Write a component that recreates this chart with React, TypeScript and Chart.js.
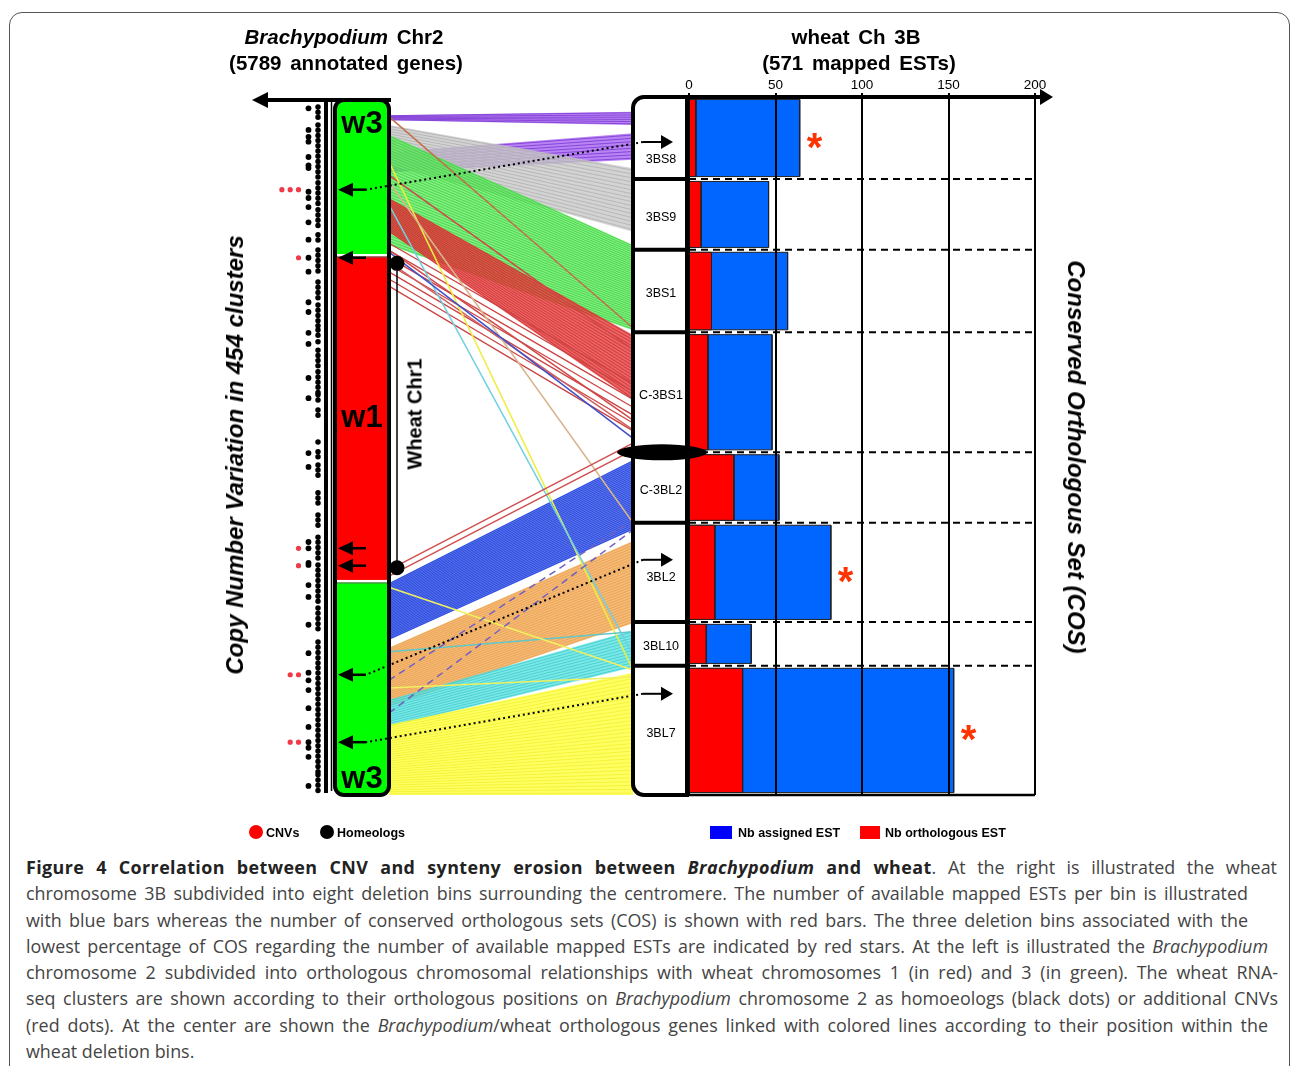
import React, { useEffect, useRef } from "react";
import { Chart, registerables } from "chart.js";

Chart.register(...registerables);

// ---------- Data: wheat chromosome 3B deletion bins ----------
const binLabels = ["3BS8", "3BS9", "3BS1", "C-3BS1", "C-3BL2", "3BL2", "3BL10", "3BL7"];
// bin boundaries along chromosome 3B (% of chromosome length, from the short-arm tip)
const binEdges = [0, 11.75, 21.9, 33.7, 50.9, 61.0, 75.2, 81.5, 100];
const assignedEST = [64, 46, 57, 48, 52, 82, 36, 153];
const orthologousEST = [4, 7, 13, 11, 26, 15, 10, 31];
const starredBins = ["3BS8", "3BL2", "3BL7"];
const centromere = 50.9;
const estTicks = [0, 50, 100, 150, 200];

// ---------- Data: Brachypodium chromosome 2 (% of chromosome length) ----------
const segmentLabels = ["w3", "w1", "w3"];
const segmentEdges = [0, 22.3, 69.2, 100];
const wheatChr1Span = [23.5, 67.3];
const cnvPositions = [12.9, 22.7, 64.5, 67.0, 82.7, 92.4];
const cnvCounts = [3, 1, 1, 1, 2, 2];
const linkedCnv = [0, 4, 5];
const linkedBinPos = [6.45, 66.3, 85.5];
const homeologSparse = [1.2, 4.3, 5.3, 6.0, 8.2, 9.4, 9.8, 13.2, 14.1, 15.4, 17.6, 20.1, 22.7, 24.7, 29.1, 30.5, 33.5, 35.1, 40.0, 42.9, 50.8, 52.8, 63.6, 64.5, 66.6, 66.9, 69.8, 71.5, 75.5, 79.6, 82.4, 83.5, 84.9, 87.5, 90.2, 92.4, 93.2, 94.5, 98.7];
const homeologDenseStart = [1.0, 3.6, 11.9, 15.8, 19.4, 21.6, 26.2, 29.5, 33.1, 34.8, 36.0, 39.1, 42.4, 44.6, 49.2, 50.6, 52.5, 56.5, 59.7, 62.9, 66.9, 73.1, 78.0, 81.7, 97.1];
const homeologDenseEnd = [2.6, 11.2, 15.1, 18.4, 20.6, 25.2, 29.1, 32.8, 34.1, 35.5, 38.4, 42.2, 43.5, 46.0, 49.6, 51.4, 54.2, 58.3, 61.4, 66.6, 72.2, 76.5, 81.3, 96.7, 99.6];

// ---------- Data: orthologous gene links (Brachypodium % -> wheat 3B %) ----------
const bandBrachyFrom = [2.2, 7.5, 3.6, 5.0, 14.1, 20.1, 69.5, 78.8, 86.3, 89.9];
const bandBrachyTo = [2.9, 10.4, 9.4, 20.9, 19.0, 27.3, 77.7, 87.3, 90.2, 100];
const bandWheatFrom = [2.1, 5.2, 10.2, 21.2, 34.1, 40.5, 52.0, 63.6, 76.4, 82.5];
const bandWheatTo = [4.0, 9.0, 19.3, 33.4, 43.4, 48.4, 62.0, 75.4, 81.7, 100];
const bandGenes = [6, 8, 16, 40, 20, 7, 36, 30, 12, 32];
const singleBrachy = [2.4, 10.8, 21.6, 23.3, 8.9, 15.1, 11.8, 21.9, 67.6, 68.5, 79.4, 70.1, 84.6, 88.2, 83.5];
const singleWheat = [33.1, 36.2, 46.3, 47.7, 82.1, 79.9, 61.0, 48.9, 49.6, 50.6, 76.6, 82.1, 83.1, 62.0, 60.6];

// ---------- Styles ----------
const FONT = '"Liberation Sans", Arial, Helvetica, sans-serif';
const CAPTION_FONT = '"Open Sans", "Noto Sans", sans-serif';
const segmentColors = ["#00ff00", "#ff0000", "#00ff00"];
const bandFill = ["rgba(160,90,240,0.75)", "rgba(160,90,240,0.75)", "rgba(200,200,200,0.8)", "rgba(90,235,90,0.75)", "rgba(230,60,60,0.8)", "rgba(0,0,0,0)", "rgba(60,90,235,0.8)", "rgba(245,175,95,0.85)", "rgba(90,225,225,0.8)", "rgba(255,255,70,0.85)"];
const bandLine = ["#7a36d0", "#7a36d0", "#b0b0b0", "#3fcf3f", "#cc3030", "#cc4444", "#2040d8", "#e8a050", "#40cccc", "#f0f030"];
const singleColors = ["#c0704a", "#d04848", "#d04848", "#d06060", "#eeee40", "#70d0e0", "#d8b48c", "#4050c8", "#d05050", "#d05050", "#60c8c8", "#f0f060", "#f0f060", "#7060c0", "#7060c0"];
const singleDashed = [false, false, false, false, false, false, false, false, false, false, false, false, false, true, true];
const BLUE = "#0066ff";
const RED = "#ff0000";

const CHR_L = 335, CHR_R = 389, CHR_TOP = 0.43;
const COL_L = 633, COL_R = 687;
const BAR_INSET = 0.35;

function rectPoints(i: number, v: number) {
  const t = binEdges[i] + BAR_INSET, b = binEdges[i + 1] - BAR_INSET;
  return [{ x: 0, y: t }, { x: v, y: t }, { x: v, y: b }, { x: 0, y: b }, { x: 0, y: t }];
}

function hArrow(ctx: CanvasRenderingContext2D, x0: number, x1: number, y: number, head: number, half: number, lw: number) {
  const dir = Math.sign(x1 - x0);
  ctx.lineWidth = lw;
  ctx.beginPath(); ctx.moveTo(x0, y); ctx.lineTo(x1 - dir * head * 0.7, y); ctx.stroke();
  ctx.beginPath(); ctx.moveTo(x1, y); ctx.lineTo(x1 - dir * head, y - half); ctx.lineTo(x1 - dir * head, y + half); ctx.closePath(); ctx.fill();
}

const figurePlugin = {
  id: "figure",
  beforeDatasetsDraw(chart: any) {
    const ctx: CanvasRenderingContext2D = chart.ctx;
    const { x, y } = chart.scales;
    const bY = (p: number) => y.getPixelForValue(CHR_TOP + (p * (100 - CHR_TOP)) / 100);
    const wY = (p: number) => y.getPixelForValue(p);
    ctx.save();
    // dashed bin boundaries
    ctx.setLineDash([7, 5]); ctx.lineWidth = 2; ctx.strokeStyle = "#000";
    for (let i = 1; i < binEdges.length - 1; i++) {
      const py = wY(binEdges[i]);
      ctx.beginPath(); ctx.moveTo(x.left, py); ctx.lineTo(x.right, py); ctx.stroke();
    }
    ctx.setLineDash([]);
    // synteny bands
    for (let i = 0; i < bandGenes.length; i++) {
      ctx.fillStyle = bandFill[i];
      ctx.beginPath();
      ctx.moveTo(CHR_R, bY(bandBrachyFrom[i])); ctx.lineTo(COL_L, wY(bandWheatFrom[i]));
      ctx.lineTo(COL_L, wY(bandWheatTo[i])); ctx.lineTo(CHR_R, bY(bandBrachyTo[i]));
      ctx.closePath(); ctx.fill();
      ctx.strokeStyle = bandLine[i]; ctx.lineWidth = bandFill[i] === "rgba(0,0,0,0)" ? 1.3 : 0.8;
      const n = bandGenes[i];
      for (let k = 0; k < n; k++) {
        const t = (k + 0.5) / n;
        ctx.beginPath();
        ctx.moveTo(CHR_R, bY(bandBrachyFrom[i] + t * (bandBrachyTo[i] - bandBrachyFrom[i])));
        ctx.lineTo(COL_L, wY(bandWheatFrom[i] + t * (bandWheatTo[i] - bandWheatFrom[i])));
        ctx.stroke();
      }
    }
    for (let i = 0; i < singleBrachy.length; i++) {
      ctx.strokeStyle = singleColors[i]; ctx.lineWidth = 1.5;
      ctx.setLineDash(singleDashed[i] ? [7, 5] : []);
      ctx.beginPath(); ctx.moveTo(CHR_R, bY(singleBrachy[i])); ctx.lineTo(COL_L, wY(singleWheat[i])); ctx.stroke();
    }
    ctx.restore();
  },
  afterDraw(chart: any) {
    const ctx: CanvasRenderingContext2D = chart.ctx;
    const { x, y } = chart.scales;
    const bY = (p: number) => y.getPixelForValue(CHR_TOP + (p * (100 - CHR_TOP)) / 100);
    const wY = (p: number) => y.getPixelForValue(p);
    ctx.save();
    ctx.strokeStyle = "#000"; ctx.fillStyle = "#000";
    // bottom of bar panel
    ctx.lineWidth = 2.5;
    ctx.beginPath(); ctx.moveTo(x.left, y.bottom); ctx.lineTo(x.right, y.bottom); ctx.stroke();
    // axis arrow extension
    ctx.lineWidth = 4;
    ctx.beginPath(); ctx.moveTo(x.right - 2, y.top); ctx.lineTo(x.right + 8, y.top); ctx.stroke();
    ctx.beginPath(); ctx.moveTo(x.right + 18, y.top); ctx.lineTo(x.right + 5, y.top - 8); ctx.lineTo(x.right + 5, y.top + 8); ctx.closePath(); ctx.fill();

    // label column of deletion bins
    ctx.fillStyle = "#fff";
    ctx.beginPath(); ctx.roundRect(COL_L, y.top, COL_R - COL_L, y.bottom - y.top, [11, 0, 0, 11]); ctx.fill();
    ctx.lineWidth = 4; ctx.stroke();
    for (let i = 1; i < binEdges.length - 1; i++) {
      const py = wY(binEdges[i]);
      ctx.beginPath(); ctx.moveTo(COL_L, py); ctx.lineTo(x.left, py); ctx.stroke();
    }
    // centromere
    ctx.fillStyle = "#000";
    ctx.beginPath(); ctx.ellipse((COL_L + COL_R) / 2 + 2, wY(centromere), 45, 8, 0, 0, Math.PI * 2); ctx.fill();

    // bin arrows, labels, stars
    ctx.font = `12.5px ${FONT}`; ctx.textAlign = "center"; ctx.textBaseline = "middle";
    for (let i = 0; i < binLabels.length; i++) {
      const c = (wY(binEdges[i]) + wY(binEdges[i + 1])) / 2;
      let ly = c + 3;
      const li = linkedCnv.findIndex((_, k) => linkedBinPos[k] > binEdges[i] && linkedBinPos[k] < binEdges[i + 1]);
      if (li >= 0) {
        const ay = wY(linkedBinPos[li]);
        ctx.fillStyle = "#000"; ctx.strokeStyle = "#000";
        hArrow(ctx, COL_L + 10, COL_L + 40, ay, 12, 7, 2);
        ly = Math.max(ly, ay + 18);
      }
      ctx.fillStyle = "#000";
      ctx.fillText(binLabels[i], (COL_L + COL_R) / 2 + 1, ly);
    }
    ctx.fillStyle = "#ff3300"; ctx.font = `bold 40px ${FONT}`; ctx.textAlign = "left"; ctx.textBaseline = "alphabetic";
    starredBins.forEach((lab) => {
      const i = binLabels.indexOf(lab);
      const c = (wY(binEdges[i]) + wY(binEdges[i + 1])) / 2;
      ctx.fillText("*", x.getPixelForValue(assignedEST[i]) + 7, c + 23);
    });

    // Brachypodium chromosome
    const top = bY(0), bot = bY(100);
    ctx.fillStyle = "#000"; ctx.strokeStyle = "#000";
    ctx.lineWidth = 4;
    ctx.beginPath(); ctx.moveTo(CHR_R + 2, top); ctx.lineTo(266, top); ctx.stroke();
    ctx.beginPath(); ctx.moveTo(252, top); ctx.lineTo(268, top - 8); ctx.lineTo(268, top + 8); ctx.closePath(); ctx.fill();
    ctx.beginPath(); ctx.moveTo(326, top); ctx.lineTo(326, bot - 2); ctx.stroke();
    ctx.lineWidth = 1.5;
    ctx.beginPath(); ctx.moveTo(331.5, top); ctx.lineTo(331.5, bot - 4); ctx.stroke();

    // homeolog dots
    ctx.lineWidth = 5.5; ctx.lineCap = "round"; ctx.setLineDash([0, 5.2]);
    for (let i = 0; i < homeologDenseStart.length; i++) {
      ctx.beginPath(); ctx.moveTo(318, bY(homeologDenseStart[i])); ctx.lineTo(318, bY(homeologDenseEnd[i])); ctx.stroke();
    }
    ctx.setLineDash([]); ctx.lineCap = "butt";
    homeologSparse.forEach((p) => { ctx.beginPath(); ctx.arc(308.5, bY(p), 2.9, 0, Math.PI * 2); ctx.fill(); });
    // CNV dots
    ctx.fillStyle = "#f03a4a";
    cnvPositions.forEach((p, i) => {
      for (let k = 0; k < cnvCounts[i]; k++) { ctx.beginPath(); ctx.arc(298.5 - 8.3 * k, bY(p), 2.6, 0, Math.PI * 2); ctx.fill(); }
    });

    ctx.save();
    ctx.beginPath(); ctx.roundRect(CHR_L, top, CHR_R - CHR_L, bot - top, 9); ctx.clip();
    for (let s = 0; s < segmentLabels.length; s++) {
      ctx.fillStyle = segmentColors[s];
      ctx.fillRect(CHR_L, bY(segmentEdges[s]), CHR_R - CHR_L, bY(segmentEdges[s + 1]) - bY(segmentEdges[s]));
    }
    for (let s = 1; s < segmentLabels.length; s++) {
      const py = bY(segmentEdges[s]);
      ctx.fillStyle = "#fff"; ctx.fillRect(CHR_L, py - 1, CHR_R - CHR_L, 2.5);
      ctx.fillStyle = "#666"; ctx.fillRect(CHR_L, py + 1.5, CHR_R - CHR_L, 1);
    }
    ctx.restore();
    ctx.strokeStyle = "#000"; ctx.lineWidth = 4;
    ctx.beginPath(); ctx.roundRect(CHR_L, top, CHR_R - CHR_L, bot - top, 9); ctx.stroke();
    ctx.fillStyle = "#000"; ctx.font = `bold 31px ${FONT}`; ctx.textAlign = "center"; ctx.textBaseline = "middle";
    for (let s = 0; s < segmentLabels.length; s++) {
      let ly = (bY(segmentEdges[s]) + bY(segmentEdges[s + 1])) / 2;
      if (s === 0) ly = top + 24;
      if (s === segmentLabels.length - 1) ly = bot - 16;
      ctx.fillText(segmentLabels[s], (CHR_L + CHR_R) / 2, ly);
    }
    // CNV arrows on chromosome
    ctx.strokeStyle = "#000"; ctx.fillStyle = "#000";
    cnvPositions.forEach((p) => hArrow(ctx, 366, 338, bY(p), 15, 7, 2.5));
    // wheat Chr1 bracket
    ctx.lineWidth = 1.5;
    ctx.beginPath(); ctx.moveTo(397, bY(wheatChr1Span[0])); ctx.lineTo(397, bY(wheatChr1Span[1])); ctx.stroke();
    wheatChr1Span.forEach((p) => { ctx.beginPath(); ctx.arc(397, bY(p), 7.5, 0, Math.PI * 2); ctx.fill(); });
    // dotted links CNV -> bin
    ctx.lineWidth = 2; ctx.setLineDash([2, 3]);
    linkedCnv.forEach((ci, k) => {
      ctx.beginPath(); ctx.moveTo(COL_L + 10, wY(linkedBinPos[k])); ctx.lineTo(366, bY(cnvPositions[ci])); ctx.stroke();
    });
    ctx.restore();
  },
};

const CaptionLine = ({ w, last, children }: { w?: number; last?: boolean; children: React.ReactNode }) => (
  <div style={{ width: w, whiteSpace: "nowrap", textAlign: last ? "left" : "justify", textAlignLast: last ? "left" : "justify", height: 26.3, lineHeight: "26.3px" } as any}>
    {children}
  </div>
);

export default function App() {
  const ref = useRef<HTMLCanvasElement | null>(null);
  useEffect(() => {
    if (!ref.current) return;
    const datasets: any[] = [];
    orthologousEST.forEach((v, i) =>
      datasets.push({ label: "Nb orthologous EST", data: rectPoints(i, v), backgroundColor: RED, borderColor: "#222", borderWidth: 1, fill: "shape", pointRadius: 0, tension: 0 })
    );
    assignedEST.forEach((v, i) =>
      datasets.push({ label: "Nb assigned EST", data: rectPoints(i, v), backgroundColor: BLUE, borderColor: "#222", borderWidth: 1, fill: "shape", pointRadius: 0, tension: 0 })
    );
    const chart = new Chart(ref.current, {
      type: "line",
      data: { datasets },
      options: {
        animation: false,
        responsive: false,
        devicePixelRatio: 1,
        layout: { padding: { left: 689, right: 255, top: 77, bottom: 55 } },
        plugins: { legend: { display: false }, tooltip: { enabled: false } },
        scales: {
          x: {
            type: "linear", position: "top", min: 0, max: 200,
            afterBuildTicks: (s: any) => { s.ticks = estTicks.map((v) => ({ value: v })); },
            afterFit: (s: any) => { s.height = 20; },
            ticks: { color: "#000", font: { family: FONT, size: 13.5 }, padding: 0, maxRotation: 0 },
            grid: { color: "#000", lineWidth: 2, z: 1, tickLength: 4 },
            border: { color: "#000", width: 4, z: 1 },
          },
          y: { type: "linear", min: 0, max: 100, reverse: true, display: false },
        },
      } as any,
      plugins: [figurePlugin],
    });
    return () => chart.destroy();
  }, []);

  const abs = (l: number, t: number, extra: any = {}) => ({ position: "absolute", left: l, top: t, whiteSpace: "nowrap", lineHeight: 1, ...extra } as any);
  const centered = (cx: number, cy: number, rot: number, font: string, extra: any = {}) =>
    abs(cx, cy, { transform: `translate(-50%,-50%) rotate(${rot}deg)`, font, color: "#000", ...extra });
  const title = `bold 20.5px ${FONT}`;

  return (
    <div style={{ position: "absolute", left: 0, top: 0, width: 1290, height: 1066, overflow: "hidden", background: "#fff", fontFamily: FONT }}>
      <div style={{ position: "absolute", left: 9, top: 12, width: 1281, height: 1200, boxSizing: "border-box", border: "1.5px solid #555", borderRadius: "13px 13px 0 0" }} />
      <canvas ref={ref} width={1290} height={850} style={{ position: "absolute", left: 0, top: 0, display: "block" }} />
      <div style={centered(344, 37, 0, title, { wordSpacing: 3 })}><i>Brachypodium</i> Chr2</div>
      <div style={centered(346, 63, 0, title, { wordSpacing: 3 })}>(5789 annotated genes)</div>
      <div style={centered(856, 37, 0, title, { wordSpacing: 3 })}>wheat Ch 3B</div>
      <div style={centered(859, 63, 0, title, { wordSpacing: 3 })}>(571 mapped ESTs)</div>
      <div style={centered(235, 455, -90, `italic bold 24px ${FONT}`)}>Copy Number Variation in 454 clusters</div>
      <div style={centered(1076, 457, 90, `italic bold 24px ${FONT}`)}>Conserved Orthologous Set (COS)</div>
      <div style={centered(415, 414, -90, `bold 20px ${FONT}`)}>Wheat Chr1</div>

      <div style={abs(249, 825, { width: 14, height: 14, borderRadius: "50%", background: "#ff0000" })} />
      <div style={abs(266, 826, { font: `bold 12.5px ${FONT}` })}>CNVs</div>
      <div style={abs(320, 825, { width: 14, height: 14, borderRadius: "50%", background: "#000" })} />
      <div style={abs(337, 826, { font: `bold 12.5px ${FONT}` })}>Homeologs</div>
      <div style={abs(710, 826, { width: 22, height: 13, background: "#0000ff" })} />
      <div style={abs(738, 826, { font: `bold 12.5px ${FONT}` })}>Nb assigned EST</div>
      <div style={abs(860, 826, { width: 20, height: 13, background: "#ff0000" })} />
      <div style={abs(885, 826, { font: `bold 12.5px ${FONT}` })}>Nb orthologous EST</div>

      <div style={{ position: "absolute", left: 26, top: 854, fontFamily: CAPTION_FONT, fontSize: 17.9, color: "#444" }}>
        <CaptionLine w={1251}><b style={{ color: "#222", letterSpacing: 0.4 }}>Figure 4 Correlation between CNV and synteny erosion between <i>Brachypodium</i> and wheat</b>. At the right is illustrated the wheat</CaptionLine>
        <CaptionLine w={1222}>chromosome 3B subdivided into eight deletion bins surrounding the centromere. The number of available mapped ESTs per bin is illustrated</CaptionLine>
        <CaptionLine w={1222}>with blue bars whereas the number of conserved orthologous sets (COS) is shown with red bars. The three deletion bins associated with the</CaptionLine>
        <CaptionLine w={1242}>lowest percentage of COS regarding the number of available mapped ESTs are indicated by red stars. At the left is illustrated the <i>Brachypodium</i></CaptionLine>
        <CaptionLine w={1252}>chromosome 2 subdivided into orthologous chromosomal relationships with wheat chromosomes 1 (in red) and 3 (in green). The wheat RNA-</CaptionLine>
        <CaptionLine w={1252}>seq clusters are shown according to their orthologous positions on <i>Brachypodium</i> chromosome 2 as homoeologs (black dots) or additional CNVs</CaptionLine>
        <CaptionLine w={1242}>(red dots). At the center are shown the <i>Brachypodium</i>/wheat orthologous genes linked with colored lines according to their position within the</CaptionLine>
        <CaptionLine last>wheat deletion bins.</CaptionLine>
      </div>
    </div>
  );
}
